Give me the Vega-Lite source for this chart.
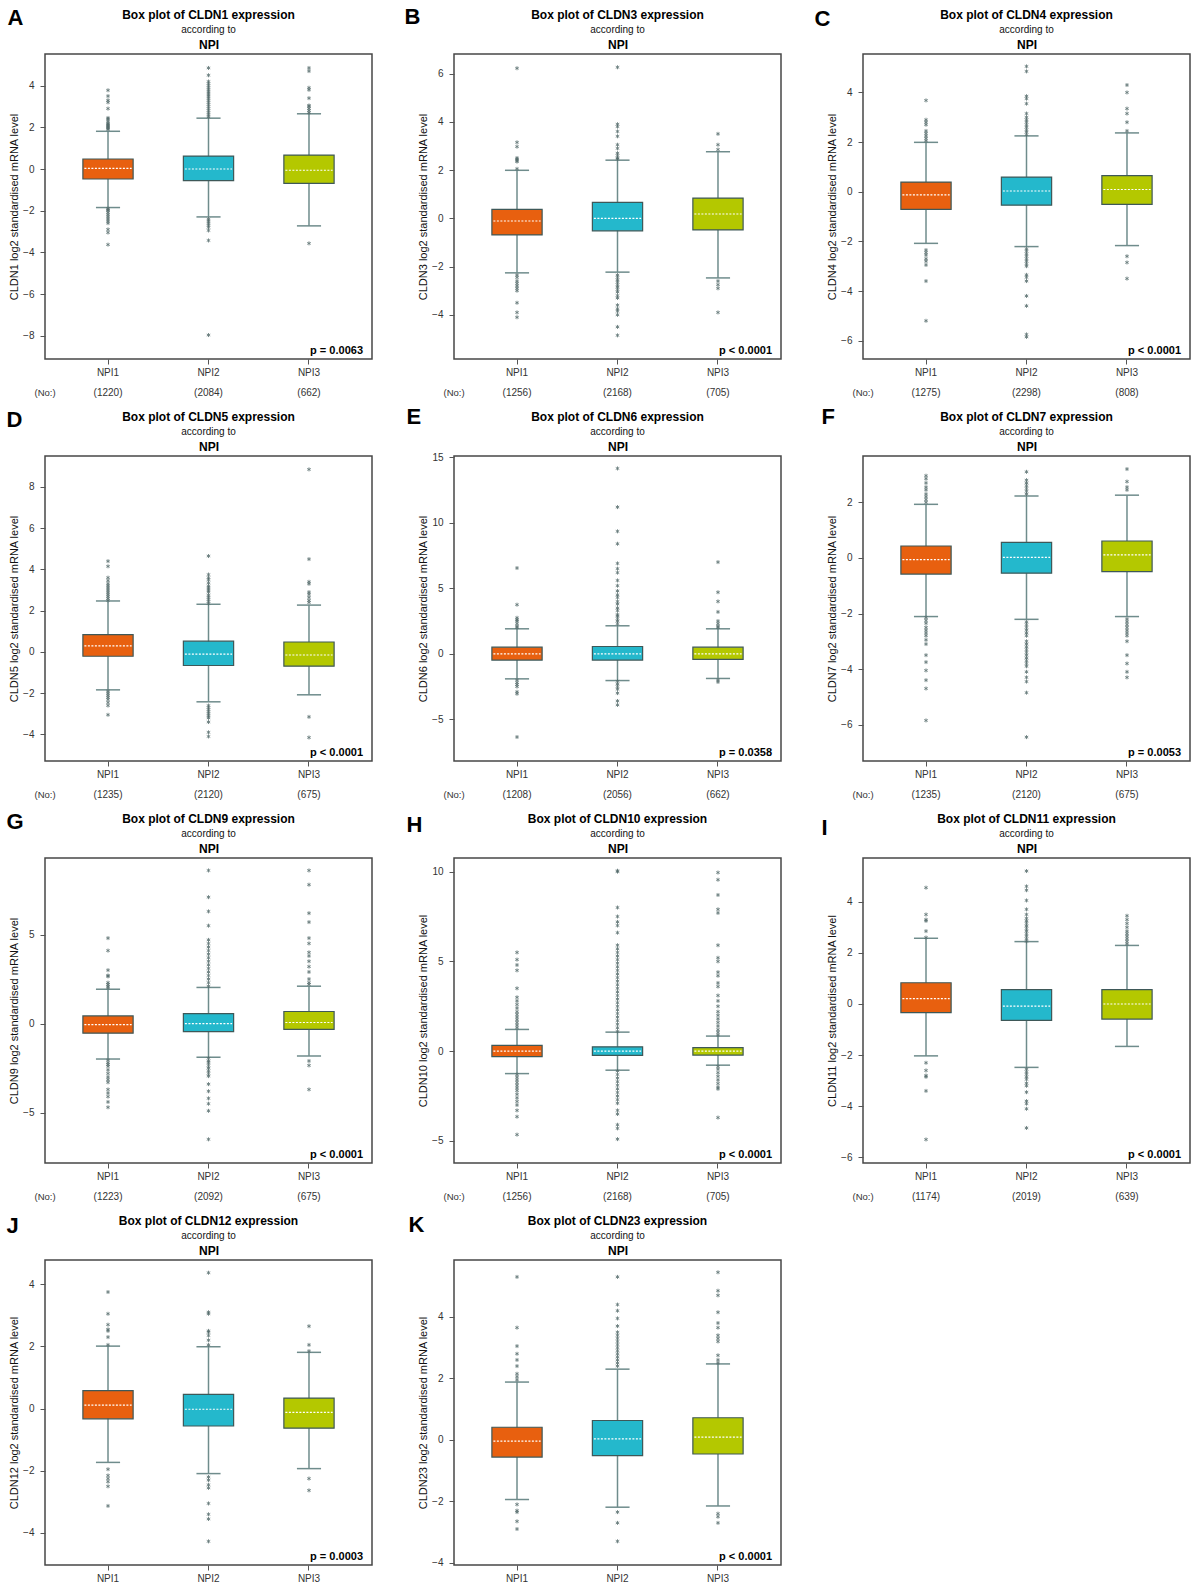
{
"$schema": "https://vega.github.io/schema/vega-lite/v6.json",
"background": "white",
"padding": {"left": 5, "top": 4, "right": 0, "bottom": 0},
"config": {
  "font": "Liberation Sans",
  "view": {"stroke": "#474747", "strokeWidth": 1.5},
  "scale": {"bandPaddingInner": 0.5, "bandPaddingOuter": 0.377},
  "title": {"fontSize": 12, "fontWeight": "bold", "color": "#000", "subtitleFontSize": 10, "subtitleColor": "#111", "subtitlePadding": 0, "anchor": "middle", "frame": "group"},
  "axis": {"grid": false, "domain": false, "labelColor": "#333", "tickColor": "#555", "tickSize": 5, "labelFontSize": 10},
  "axisLeft": {"labelPadding": 6, "titleFontSize": 11, "titleFontWeight": "normal", "titleColor": "#111", "titlePadding": 3},
  "axisBottom": {"labelPadding": 3, "labelAngle": 0, "labelLineHeight": 20, "titleFontSize": 9.5, "titleFontWeight": "normal", "titleColor": "#333"},
  "axisTop": {"labels": false, "ticks": false, "titleFontSize": 12, "titleFontWeight": "bold", "titleColor": "#000", "titlePadding": 3},
  "axisRight": {"labels": false, "ticks": false, "titleFontSize": 22, "titleFontWeight": "bold", "titleColor": "#000", "titleAngle": 0, "titleAlign": "left", "titleBaseline": "alphabetic"}
},
"datasets": {
"stats": [
{"id":"A","grp":"NPI1 (1220)","g":"NPI1","lo":-1.85,"q1":-0.48,"med":0.03,"q3":0.48,"hi":1.81},
{"id":"A","grp":"NPI2 (2084)","g":"NPI2","lo":-2.3,"q1":-0.56,"med":0.0,"q3":0.62,"hi":2.44},
{"id":"A","grp":"NPI3 (662)","g":"NPI3","lo":-2.73,"q1":-0.69,"med":-0.06,"q3":0.67,"hi":2.65},
{"id":"B","grp":"NPI1 (1256)","g":"NPI1","lo":-2.26,"q1":-0.69,"med":-0.11,"q3":0.37,"hi":1.99},
{"id":"B","grp":"NPI2 (2168)","g":"NPI2","lo":-2.23,"q1":-0.52,"med":0.0,"q3":0.66,"hi":2.41},
{"id":"B","grp":"NPI3 (705)","g":"NPI3","lo":-2.47,"q1":-0.48,"med":0.18,"q3":0.84,"hi":2.76},
{"id":"C","grp":"NPI1 (1275)","g":"NPI1","lo":-2.08,"q1":-0.71,"med":-0.13,"q3":0.39,"hi":1.99},
{"id":"C","grp":"NPI2 (2298)","g":"NPI2","lo":-2.21,"q1":-0.54,"med":0.03,"q3":0.59,"hi":2.25},
{"id":"C","grp":"NPI3 (808)","g":"NPI3","lo":-2.17,"q1":-0.51,"med":0.09,"q3":0.65,"hi":2.37},
{"id":"D","grp":"NPI1 (1235)","g":"NPI1","lo":-1.84,"q1":-0.21,"med":0.29,"q3":0.84,"hi":2.47},
{"id":"D","grp":"NPI2 (2120)","g":"NPI2","lo":-2.42,"q1":-0.66,"med":-0.11,"q3":0.52,"hi":2.31},
{"id":"D","grp":"NPI3 (675)","g":"NPI3","lo":-2.08,"q1":-0.69,"med":-0.15,"q3":0.48,"hi":2.27},
{"id":"E","grp":"NPI1 (1208)","g":"NPI1","lo":-1.91,"q1":-0.48,"med":0.0,"q3":0.51,"hi":1.91},
{"id":"E","grp":"NPI2 (2056)","g":"NPI2","lo":-2.04,"q1":-0.48,"med":0.0,"q3":0.56,"hi":2.14},
{"id":"E","grp":"NPI3 (662)","g":"NPI3","lo":-1.88,"q1":-0.43,"med":0.0,"q3":0.51,"hi":1.91},
{"id":"F","grp":"NPI1 (1235)","g":"NPI1","lo":-2.11,"q1":-0.58,"med":-0.06,"q3":0.43,"hi":1.93},
{"id":"F","grp":"NPI2 (2120)","g":"NPI2","lo":-2.21,"q1":-0.55,"med":0.02,"q3":0.56,"hi":2.23},
{"id":"F","grp":"NPI3 (675)","g":"NPI3","lo":-2.11,"q1":-0.49,"med":0.11,"q3":0.61,"hi":2.26},
{"id":"G","grp":"NPI1 (1223)","g":"NPI1","lo":-1.99,"q1":-0.54,"med":-0.06,"q3":0.43,"hi":1.93},
{"id":"G","grp":"NPI2 (2092)","g":"NPI2","lo":-1.89,"q1":-0.45,"med":0.0,"q3":0.56,"hi":2.03},
{"id":"G","grp":"NPI3 (675)","g":"NPI3","lo":-1.82,"q1":-0.32,"med":0.06,"q3":0.68,"hi":2.1},
{"id":"H","grp":"NPI1 (1256)","g":"NPI1","lo":-1.25,"q1":-0.3,"med":0.0,"q3":0.32,"hi":1.21},
{"id":"H","grp":"NPI2 (2168)","g":"NPI2","lo":-1.06,"q1":-0.24,"med":0.0,"q3":0.24,"hi":1.06},
{"id":"H","grp":"NPI3 (705)","g":"NPI3","lo":-0.78,"q1":-0.22,"med":0.0,"q3":0.2,"hi":0.84},
{"id":"I","grp":"NPI1 (1174)","g":"NPI1","lo":-2.03,"q1":-0.34,"med":0.21,"q3":0.83,"hi":2.57},
{"id":"I","grp":"NPI2 (2019)","g":"NPI2","lo":-2.48,"q1":-0.64,"med":-0.08,"q3":0.56,"hi":2.44},
{"id":"I","grp":"NPI3 (639)","g":"NPI3","lo":-1.66,"q1":-0.59,"med":0.0,"q3":0.56,"hi":2.29},
{"id":"J","grp":"NPI1","g":"NPI1","lo":-1.73,"q1":-0.33,"med":0.11,"q3":0.58,"hi":2.01},
{"id":"J","grp":"NPI2","g":"NPI2","lo":-2.09,"q1":-0.56,"med":-0.02,"q3":0.46,"hi":1.99},
{"id":"J","grp":"NPI3","g":"NPI3","lo":-1.93,"q1":-0.63,"med":-0.12,"q3":0.34,"hi":1.81},
{"id":"K","grp":"NPI1","g":"NPI1","lo":-1.94,"q1":-0.56,"med":-0.04,"q3":0.41,"hi":1.88},
{"id":"K","grp":"NPI2","g":"NPI2","lo":-2.19,"q1":-0.51,"med":0.03,"q3":0.63,"hi":2.3},
{"id":"K","grp":"NPI3","g":"NPI3","lo":-2.15,"q1":-0.46,"med":0.09,"q3":0.72,"hi":2.47}
],
"info": [
{"id":"A","p":"p = 0.0063"},{"id":"B","p":"p < 0.0001"},{"id":"C","p":"p < 0.0001"},{"id":"D","p":"p < 0.0001"},
{"id":"E","p":"p = 0.0358"},{"id":"F","p":"p = 0.0053"},{"id":"G","p":"p < 0.0001"},{"id":"H","p":"p < 0.0001"},
{"id":"I","p":"p < 0.0001"},{"id":"J","p":"p = 0.0003"},{"id":"K","p":"p < 0.0001"}
],
"out": [
{"id":"A","grp":"NPI1 (1220)","v":1.9},{"id":"A","grp":"NPI1 (1220)","v":1.95},{"id":"A","grp":"NPI1 (1220)","v":2.0},{"id":"A","grp":"NPI1 (1220)","v":2.05},{"id":"A","grp":"NPI1 (1220)","v":2.1},{"id":"A","grp":"NPI1 (1220)","v":2.15},{"id":"A","grp":"NPI1 (1220)","v":2.2},{"id":"A","grp":"NPI1 (1220)","v":2.3},{"id":"A","grp":"NPI1 (1220)","v":2.4},{"id":"A","grp":"NPI1 (1220)","v":2.45},{"id":"A","grp":"NPI1 (1220)","v":2.9},{"id":"A","grp":"NPI1 (1220)","v":3.2},{"id":"A","grp":"NPI1 (1220)","v":3.3},{"id":"A","grp":"NPI1 (1220)","v":3.5},{"id":"A","grp":"NPI1 (1220)","v":3.78},
{"id":"A","grp":"NPI1 (1220)","v":-1.9},{"id":"A","grp":"NPI1 (1220)","v":-1.95},{"id":"A","grp":"NPI1 (1220)","v":-2.0},{"id":"A","grp":"NPI1 (1220)","v":-2.1},{"id":"A","grp":"NPI1 (1220)","v":-2.2},{"id":"A","grp":"NPI1 (1220)","v":-2.3},{"id":"A","grp":"NPI1 (1220)","v":-2.4},{"id":"A","grp":"NPI1 (1220)","v":-2.5},{"id":"A","grp":"NPI1 (1220)","v":-2.6},{"id":"A","grp":"NPI1 (1220)","v":-2.9},{"id":"A","grp":"NPI1 (1220)","v":-3.05},{"id":"A","grp":"NPI1 (1220)","v":-3.63},
{"id":"A","grp":"NPI2 (2084)","v":2.5},{"id":"A","grp":"NPI2 (2084)","v":2.6},{"id":"A","grp":"NPI2 (2084)","v":2.7},{"id":"A","grp":"NPI2 (2084)","v":2.8},{"id":"A","grp":"NPI2 (2084)","v":2.9},{"id":"A","grp":"NPI2 (2084)","v":3.0},{"id":"A","grp":"NPI2 (2084)","v":3.1},{"id":"A","grp":"NPI2 (2084)","v":3.2},{"id":"A","grp":"NPI2 (2084)","v":3.3},{"id":"A","grp":"NPI2 (2084)","v":3.4},{"id":"A","grp":"NPI2 (2084)","v":3.5},{"id":"A","grp":"NPI2 (2084)","v":3.6},{"id":"A","grp":"NPI2 (2084)","v":3.7},{"id":"A","grp":"NPI2 (2084)","v":3.8},{"id":"A","grp":"NPI2 (2084)","v":3.9},{"id":"A","grp":"NPI2 (2084)","v":4.0},{"id":"A","grp":"NPI2 (2084)","v":4.1},{"id":"A","grp":"NPI2 (2084)","v":4.2},{"id":"A","grp":"NPI2 (2084)","v":4.5},{"id":"A","grp":"NPI2 (2084)","v":4.85},
{"id":"A","grp":"NPI2 (2084)","v":-2.4},{"id":"A","grp":"NPI2 (2084)","v":-2.5},{"id":"A","grp":"NPI2 (2084)","v":-2.6},{"id":"A","grp":"NPI2 (2084)","v":-2.7},{"id":"A","grp":"NPI2 (2084)","v":-2.8},{"id":"A","grp":"NPI2 (2084)","v":-2.95},{"id":"A","grp":"NPI2 (2084)","v":-3.43},{"id":"A","grp":"NPI2 (2084)","v":-7.97},
{"id":"A","grp":"NPI3 (662)","v":2.7},{"id":"A","grp":"NPI3 (662)","v":2.8},{"id":"A","grp":"NPI3 (662)","v":2.9},{"id":"A","grp":"NPI3 (662)","v":3.0},{"id":"A","grp":"NPI3 (662)","v":3.05},{"id":"A","grp":"NPI3 (662)","v":3.4},{"id":"A","grp":"NPI3 (662)","v":3.8},{"id":"A","grp":"NPI3 (662)","v":3.9},{"id":"A","grp":"NPI3 (662)","v":4.7},{"id":"A","grp":"NPI3 (662)","v":4.85},{"id":"A","grp":"NPI3 (662)","v":-3.57},

{"id":"B","grp":"NPI1 (1256)","v":2.05},{"id":"B","grp":"NPI1 (1256)","v":2.35},{"id":"B","grp":"NPI1 (1256)","v":2.4},{"id":"B","grp":"NPI1 (1256)","v":2.45},{"id":"B","grp":"NPI1 (1256)","v":2.5},{"id":"B","grp":"NPI1 (1256)","v":2.97},{"id":"B","grp":"NPI1 (1256)","v":3.15},{"id":"B","grp":"NPI1 (1256)","v":6.22},
{"id":"B","grp":"NPI1 (1256)","v":-2.35},{"id":"B","grp":"NPI1 (1256)","v":-2.45},{"id":"B","grp":"NPI1 (1256)","v":-2.6},{"id":"B","grp":"NPI1 (1256)","v":-2.7},{"id":"B","grp":"NPI1 (1256)","v":-2.8},{"id":"B","grp":"NPI1 (1256)","v":-2.9},{"id":"B","grp":"NPI1 (1256)","v":-3.0},{"id":"B","grp":"NPI1 (1256)","v":-3.5},{"id":"B","grp":"NPI1 (1256)","v":-3.9},{"id":"B","grp":"NPI1 (1256)","v":-4.1},
{"id":"B","grp":"NPI2 (2168)","v":2.45},{"id":"B","grp":"NPI2 (2168)","v":2.5},{"id":"B","grp":"NPI2 (2168)","v":2.6},{"id":"B","grp":"NPI2 (2168)","v":2.7},{"id":"B","grp":"NPI2 (2168)","v":2.9},{"id":"B","grp":"NPI2 (2168)","v":3.05},{"id":"B","grp":"NPI2 (2168)","v":3.4},{"id":"B","grp":"NPI2 (2168)","v":3.6},{"id":"B","grp":"NPI2 (2168)","v":3.8},{"id":"B","grp":"NPI2 (2168)","v":3.9},{"id":"B","grp":"NPI2 (2168)","v":6.26},
{"id":"B","grp":"NPI2 (2168)","v":-2.35},{"id":"B","grp":"NPI2 (2168)","v":-2.45},{"id":"B","grp":"NPI2 (2168)","v":-2.55},{"id":"B","grp":"NPI2 (2168)","v":-2.65},{"id":"B","grp":"NPI2 (2168)","v":-2.75},{"id":"B","grp":"NPI2 (2168)","v":-2.85},{"id":"B","grp":"NPI2 (2168)","v":-2.95},{"id":"B","grp":"NPI2 (2168)","v":-3.05},{"id":"B","grp":"NPI2 (2168)","v":-3.2},{"id":"B","grp":"NPI2 (2168)","v":-3.3},{"id":"B","grp":"NPI2 (2168)","v":-3.6},{"id":"B","grp":"NPI2 (2168)","v":-3.75},{"id":"B","grp":"NPI2 (2168)","v":-3.85},{"id":"B","grp":"NPI2 (2168)","v":-4.0},{"id":"B","grp":"NPI2 (2168)","v":-4.5},{"id":"B","grp":"NPI2 (2168)","v":-4.85},
{"id":"B","grp":"NPI3 (705)","v":2.85},{"id":"B","grp":"NPI3 (705)","v":3.05},{"id":"B","grp":"NPI3 (705)","v":3.5},{"id":"B","grp":"NPI3 (705)","v":-2.6},{"id":"B","grp":"NPI3 (705)","v":-2.75},{"id":"B","grp":"NPI3 (705)","v":-2.9},{"id":"B","grp":"NPI3 (705)","v":-3.9},

{"id":"C","grp":"NPI1 (1275)","v":2.05},{"id":"C","grp":"NPI1 (1275)","v":2.15},{"id":"C","grp":"NPI1 (1275)","v":2.25},{"id":"C","grp":"NPI1 (1275)","v":2.35},{"id":"C","grp":"NPI1 (1275)","v":2.45},{"id":"C","grp":"NPI1 (1275)","v":2.7},{"id":"C","grp":"NPI1 (1275)","v":2.8},{"id":"C","grp":"NPI1 (1275)","v":2.9},{"id":"C","grp":"NPI1 (1275)","v":3.68},
{"id":"C","grp":"NPI1 (1275)","v":-2.35},{"id":"C","grp":"NPI1 (1275)","v":-2.45},{"id":"C","grp":"NPI1 (1275)","v":-2.55},{"id":"C","grp":"NPI1 (1275)","v":-2.7},{"id":"C","grp":"NPI1 (1275)","v":-2.8},{"id":"C","grp":"NPI1 (1275)","v":-2.95},{"id":"C","grp":"NPI1 (1275)","v":-3.6},{"id":"C","grp":"NPI1 (1275)","v":-5.2},
{"id":"C","grp":"NPI2 (2298)","v":2.3},{"id":"C","grp":"NPI2 (2298)","v":2.4},{"id":"C","grp":"NPI2 (2298)","v":2.5},{"id":"C","grp":"NPI2 (2298)","v":2.6},{"id":"C","grp":"NPI2 (2298)","v":2.7},{"id":"C","grp":"NPI2 (2298)","v":2.8},{"id":"C","grp":"NPI2 (2298)","v":2.9},{"id":"C","grp":"NPI2 (2298)","v":3.0},{"id":"C","grp":"NPI2 (2298)","v":3.15},{"id":"C","grp":"NPI2 (2298)","v":3.55},{"id":"C","grp":"NPI2 (2298)","v":3.75},{"id":"C","grp":"NPI2 (2298)","v":3.85},{"id":"C","grp":"NPI2 (2298)","v":4.85},{"id":"C","grp":"NPI2 (2298)","v":5.05},
{"id":"C","grp":"NPI2 (2298)","v":-2.3},{"id":"C","grp":"NPI2 (2298)","v":-2.4},{"id":"C","grp":"NPI2 (2298)","v":-2.5},{"id":"C","grp":"NPI2 (2298)","v":-2.6},{"id":"C","grp":"NPI2 (2298)","v":-2.7},{"id":"C","grp":"NPI2 (2298)","v":-2.8},{"id":"C","grp":"NPI2 (2298)","v":-2.9},{"id":"C","grp":"NPI2 (2298)","v":-3.0},{"id":"C","grp":"NPI2 (2298)","v":-3.35},{"id":"C","grp":"NPI2 (2298)","v":-3.45},{"id":"C","grp":"NPI2 (2298)","v":-3.6},{"id":"C","grp":"NPI2 (2298)","v":-4.2},{"id":"C","grp":"NPI2 (2298)","v":-4.6},{"id":"C","grp":"NPI2 (2298)","v":-5.75},{"id":"C","grp":"NPI2 (2298)","v":-5.85},
{"id":"C","grp":"NPI3 (808)","v":2.45},{"id":"C","grp":"NPI3 (808)","v":2.8},{"id":"C","grp":"NPI3 (808)","v":3.15},{"id":"C","grp":"NPI3 (808)","v":3.35},{"id":"C","grp":"NPI3 (808)","v":4.0},{"id":"C","grp":"NPI3 (808)","v":4.3},{"id":"C","grp":"NPI3 (808)","v":-2.6},{"id":"C","grp":"NPI3 (808)","v":-2.85},{"id":"C","grp":"NPI3 (808)","v":-3.5},

{"id":"D","grp":"NPI1 (1235)","v":2.5},{"id":"D","grp":"NPI1 (1235)","v":2.6},{"id":"D","grp":"NPI1 (1235)","v":2.7},{"id":"D","grp":"NPI1 (1235)","v":2.8},{"id":"D","grp":"NPI1 (1235)","v":2.9},{"id":"D","grp":"NPI1 (1235)","v":3.0},{"id":"D","grp":"NPI1 (1235)","v":3.1},{"id":"D","grp":"NPI1 (1235)","v":3.2},{"id":"D","grp":"NPI1 (1235)","v":3.3},{"id":"D","grp":"NPI1 (1235)","v":3.45},{"id":"D","grp":"NPI1 (1235)","v":3.6},{"id":"D","grp":"NPI1 (1235)","v":4.15},{"id":"D","grp":"NPI1 (1235)","v":4.4},
{"id":"D","grp":"NPI1 (1235)","v":-1.9},{"id":"D","grp":"NPI1 (1235)","v":-2.0},{"id":"D","grp":"NPI1 (1235)","v":-2.1},{"id":"D","grp":"NPI1 (1235)","v":-2.2},{"id":"D","grp":"NPI1 (1235)","v":-2.3},{"id":"D","grp":"NPI1 (1235)","v":-2.45},{"id":"D","grp":"NPI1 (1235)","v":-2.6},{"id":"D","grp":"NPI1 (1235)","v":-3.05},
{"id":"D","grp":"NPI2 (2120)","v":2.35},{"id":"D","grp":"NPI2 (2120)","v":2.45},{"id":"D","grp":"NPI2 (2120)","v":2.55},{"id":"D","grp":"NPI2 (2120)","v":2.65},{"id":"D","grp":"NPI2 (2120)","v":2.75},{"id":"D","grp":"NPI2 (2120)","v":2.9},{"id":"D","grp":"NPI2 (2120)","v":3.0},{"id":"D","grp":"NPI2 (2120)","v":3.1},{"id":"D","grp":"NPI2 (2120)","v":3.2},{"id":"D","grp":"NPI2 (2120)","v":3.35},{"id":"D","grp":"NPI2 (2120)","v":3.5},{"id":"D","grp":"NPI2 (2120)","v":3.6},{"id":"D","grp":"NPI2 (2120)","v":3.75},{"id":"D","grp":"NPI2 (2120)","v":4.65},
{"id":"D","grp":"NPI2 (2120)","v":-2.6},{"id":"D","grp":"NPI2 (2120)","v":-2.7},{"id":"D","grp":"NPI2 (2120)","v":-2.8},{"id":"D","grp":"NPI2 (2120)","v":-2.9},{"id":"D","grp":"NPI2 (2120)","v":-3.0},{"id":"D","grp":"NPI2 (2120)","v":-3.1},{"id":"D","grp":"NPI2 (2120)","v":-3.2},{"id":"D","grp":"NPI2 (2120)","v":-3.4},{"id":"D","grp":"NPI2 (2120)","v":-3.9},{"id":"D","grp":"NPI2 (2120)","v":-4.1},
{"id":"D","grp":"NPI3 (675)","v":2.4},{"id":"D","grp":"NPI3 (675)","v":2.5},{"id":"D","grp":"NPI3 (675)","v":2.65},{"id":"D","grp":"NPI3 (675)","v":2.8},{"id":"D","grp":"NPI3 (675)","v":2.9},{"id":"D","grp":"NPI3 (675)","v":3.3},{"id":"D","grp":"NPI3 (675)","v":3.4},{"id":"D","grp":"NPI3 (675)","v":4.5},{"id":"D","grp":"NPI3 (675)","v":8.85},{"id":"D","grp":"NPI3 (675)","v":-3.15},{"id":"D","grp":"NPI3 (675)","v":-4.15},

{"id":"E","grp":"NPI1 (1208)","v":2.0},{"id":"E","grp":"NPI1 (1208)","v":2.1},{"id":"E","grp":"NPI1 (1208)","v":2.3},{"id":"E","grp":"NPI1 (1208)","v":2.5},{"id":"E","grp":"NPI1 (1208)","v":2.6},{"id":"E","grp":"NPI1 (1208)","v":2.75},{"id":"E","grp":"NPI1 (1208)","v":3.75},{"id":"E","grp":"NPI1 (1208)","v":6.55},
{"id":"E","grp":"NPI1 (1208)","v":-2.0},{"id":"E","grp":"NPI1 (1208)","v":-2.2},{"id":"E","grp":"NPI1 (1208)","v":-2.35},{"id":"E","grp":"NPI1 (1208)","v":-2.5},{"id":"E","grp":"NPI1 (1208)","v":-2.9},{"id":"E","grp":"NPI1 (1208)","v":-3.05},{"id":"E","grp":"NPI1 (1208)","v":-6.35},
{"id":"E","grp":"NPI2 (2056)","v":2.3},{"id":"E","grp":"NPI2 (2056)","v":2.5},{"id":"E","grp":"NPI2 (2056)","v":2.7},{"id":"E","grp":"NPI2 (2056)","v":2.9},{"id":"E","grp":"NPI2 (2056)","v":3.0},{"id":"E","grp":"NPI2 (2056)","v":3.3},{"id":"E","grp":"NPI2 (2056)","v":3.5},{"id":"E","grp":"NPI2 (2056)","v":3.8},{"id":"E","grp":"NPI2 (2056)","v":4.0},{"id":"E","grp":"NPI2 (2056)","v":4.3},{"id":"E","grp":"NPI2 (2056)","v":4.5},{"id":"E","grp":"NPI2 (2056)","v":4.8},{"id":"E","grp":"NPI2 (2056)","v":5.2},{"id":"E","grp":"NPI2 (2056)","v":5.6},{"id":"E","grp":"NPI2 (2056)","v":6.2},{"id":"E","grp":"NPI2 (2056)","v":6.5},{"id":"E","grp":"NPI2 (2056)","v":6.9},{"id":"E","grp":"NPI2 (2056)","v":8.4},{"id":"E","grp":"NPI2 (2056)","v":9.35},{"id":"E","grp":"NPI2 (2056)","v":11.2},{"id":"E","grp":"NPI2 (2056)","v":14.15},
{"id":"E","grp":"NPI2 (2056)","v":-2.1},{"id":"E","grp":"NPI2 (2056)","v":-2.3},{"id":"E","grp":"NPI2 (2056)","v":-2.5},{"id":"E","grp":"NPI2 (2056)","v":-2.7},{"id":"E","grp":"NPI2 (2056)","v":-3.0},{"id":"E","grp":"NPI2 (2056)","v":-3.6},{"id":"E","grp":"NPI2 (2056)","v":-3.9},
{"id":"E","grp":"NPI3 (662)","v":2.0},{"id":"E","grp":"NPI3 (662)","v":2.1},{"id":"E","grp":"NPI3 (662)","v":2.3},{"id":"E","grp":"NPI3 (662)","v":2.5},{"id":"E","grp":"NPI3 (662)","v":3.2},{"id":"E","grp":"NPI3 (662)","v":4.0},{"id":"E","grp":"NPI3 (662)","v":4.7},{"id":"E","grp":"NPI3 (662)","v":7.0},{"id":"E","grp":"NPI3 (662)","v":-2.0},{"id":"E","grp":"NPI3 (662)","v":-2.15},

{"id":"F","grp":"NPI1 (1235)","v":2.0},{"id":"F","grp":"NPI1 (1235)","v":2.1},{"id":"F","grp":"NPI1 (1235)","v":2.2},{"id":"F","grp":"NPI1 (1235)","v":2.3},{"id":"F","grp":"NPI1 (1235)","v":2.45},{"id":"F","grp":"NPI1 (1235)","v":2.55},{"id":"F","grp":"NPI1 (1235)","v":2.7},{"id":"F","grp":"NPI1 (1235)","v":2.85},{"id":"F","grp":"NPI1 (1235)","v":2.96},
{"id":"F","grp":"NPI1 (1235)","v":-2.15},{"id":"F","grp":"NPI1 (1235)","v":-2.25},{"id":"F","grp":"NPI1 (1235)","v":-2.35},{"id":"F","grp":"NPI1 (1235)","v":-2.5},{"id":"F","grp":"NPI1 (1235)","v":-2.6},{"id":"F","grp":"NPI1 (1235)","v":-2.7},{"id":"F","grp":"NPI1 (1235)","v":-2.8},{"id":"F","grp":"NPI1 (1235)","v":-2.95},{"id":"F","grp":"NPI1 (1235)","v":-3.1},{"id":"F","grp":"NPI1 (1235)","v":-3.5},{"id":"F","grp":"NPI1 (1235)","v":-3.75},{"id":"F","grp":"NPI1 (1235)","v":-4.05},{"id":"F","grp":"NPI1 (1235)","v":-4.4},{"id":"F","grp":"NPI1 (1235)","v":-4.7},{"id":"F","grp":"NPI1 (1235)","v":-5.85},
{"id":"F","grp":"NPI2 (2120)","v":2.3},{"id":"F","grp":"NPI2 (2120)","v":2.4},{"id":"F","grp":"NPI2 (2120)","v":2.5},{"id":"F","grp":"NPI2 (2120)","v":2.6},{"id":"F","grp":"NPI2 (2120)","v":2.7},{"id":"F","grp":"NPI2 (2120)","v":2.8},{"id":"F","grp":"NPI2 (2120)","v":3.1},
{"id":"F","grp":"NPI2 (2120)","v":-2.3},{"id":"F","grp":"NPI2 (2120)","v":-2.4},{"id":"F","grp":"NPI2 (2120)","v":-2.5},{"id":"F","grp":"NPI2 (2120)","v":-2.6},{"id":"F","grp":"NPI2 (2120)","v":-2.7},{"id":"F","grp":"NPI2 (2120)","v":-2.8},{"id":"F","grp":"NPI2 (2120)","v":-3.0},{"id":"F","grp":"NPI2 (2120)","v":-3.1},{"id":"F","grp":"NPI2 (2120)","v":-3.2},{"id":"F","grp":"NPI2 (2120)","v":-3.3},{"id":"F","grp":"NPI2 (2120)","v":-3.4},{"id":"F","grp":"NPI2 (2120)","v":-3.5},{"id":"F","grp":"NPI2 (2120)","v":-3.6},{"id":"F","grp":"NPI2 (2120)","v":-3.7},{"id":"F","grp":"NPI2 (2120)","v":-3.8},{"id":"F","grp":"NPI2 (2120)","v":-3.9},{"id":"F","grp":"NPI2 (2120)","v":-4.1},{"id":"F","grp":"NPI2 (2120)","v":-4.3},{"id":"F","grp":"NPI2 (2120)","v":-4.45},{"id":"F","grp":"NPI2 (2120)","v":-4.85},{"id":"F","grp":"NPI2 (2120)","v":-6.45},
{"id":"F","grp":"NPI3 (675)","v":2.45},{"id":"F","grp":"NPI3 (675)","v":2.55},{"id":"F","grp":"NPI3 (675)","v":2.75},{"id":"F","grp":"NPI3 (675)","v":3.2},
{"id":"F","grp":"NPI3 (675)","v":-2.2},{"id":"F","grp":"NPI3 (675)","v":-2.3},{"id":"F","grp":"NPI3 (675)","v":-2.4},{"id":"F","grp":"NPI3 (675)","v":-2.5},{"id":"F","grp":"NPI3 (675)","v":-2.6},{"id":"F","grp":"NPI3 (675)","v":-2.7},{"id":"F","grp":"NPI3 (675)","v":-2.8},{"id":"F","grp":"NPI3 (675)","v":-3.0},{"id":"F","grp":"NPI3 (675)","v":-3.5},{"id":"F","grp":"NPI3 (675)","v":-3.8},{"id":"F","grp":"NPI3 (675)","v":-4.1},{"id":"F","grp":"NPI3 (675)","v":-4.3},

{"id":"G","grp":"NPI1 (1223)","v":2.0},{"id":"G","grp":"NPI1 (1223)","v":2.1},{"id":"G","grp":"NPI1 (1223)","v":2.2},{"id":"G","grp":"NPI1 (1223)","v":2.3},{"id":"G","grp":"NPI1 (1223)","v":2.65},{"id":"G","grp":"NPI1 (1223)","v":2.7},{"id":"G","grp":"NPI1 (1223)","v":3.0},{"id":"G","grp":"NPI1 (1223)","v":4.1},{"id":"G","grp":"NPI1 (1223)","v":4.8},
{"id":"G","grp":"NPI1 (1223)","v":-2.05},{"id":"G","grp":"NPI1 (1223)","v":-2.2},{"id":"G","grp":"NPI1 (1223)","v":-2.3},{"id":"G","grp":"NPI1 (1223)","v":-2.4},{"id":"G","grp":"NPI1 (1223)","v":-2.6},{"id":"G","grp":"NPI1 (1223)","v":-2.8},{"id":"G","grp":"NPI1 (1223)","v":-3.0},{"id":"G","grp":"NPI1 (1223)","v":-3.15},{"id":"G","grp":"NPI1 (1223)","v":-3.3},{"id":"G","grp":"NPI1 (1223)","v":-3.7},{"id":"G","grp":"NPI1 (1223)","v":-3.9},{"id":"G","grp":"NPI1 (1223)","v":-4.1},{"id":"G","grp":"NPI1 (1223)","v":-4.4},{"id":"G","grp":"NPI1 (1223)","v":-4.7},
{"id":"G","grp":"NPI2 (2092)","v":2.1},{"id":"G","grp":"NPI2 (2092)","v":2.3},{"id":"G","grp":"NPI2 (2092)","v":2.5},{"id":"G","grp":"NPI2 (2092)","v":2.7},{"id":"G","grp":"NPI2 (2092)","v":2.9},{"id":"G","grp":"NPI2 (2092)","v":3.1},{"id":"G","grp":"NPI2 (2092)","v":3.3},{"id":"G","grp":"NPI2 (2092)","v":3.5},{"id":"G","grp":"NPI2 (2092)","v":3.7},{"id":"G","grp":"NPI2 (2092)","v":3.9},{"id":"G","grp":"NPI2 (2092)","v":4.1},{"id":"G","grp":"NPI2 (2092)","v":4.3},{"id":"G","grp":"NPI2 (2092)","v":4.5},{"id":"G","grp":"NPI2 (2092)","v":4.7},{"id":"G","grp":"NPI2 (2092)","v":5.5},{"id":"G","grp":"NPI2 (2092)","v":6.3},{"id":"G","grp":"NPI2 (2092)","v":7.1},{"id":"G","grp":"NPI2 (2092)","v":8.6},
{"id":"G","grp":"NPI2 (2092)","v":-1.95},{"id":"G","grp":"NPI2 (2092)","v":-2.1},{"id":"G","grp":"NPI2 (2092)","v":-2.2},{"id":"G","grp":"NPI2 (2092)","v":-2.35},{"id":"G","grp":"NPI2 (2092)","v":-2.5},{"id":"G","grp":"NPI2 (2092)","v":-2.65},{"id":"G","grp":"NPI2 (2092)","v":-2.8},{"id":"G","grp":"NPI2 (2092)","v":-2.95},{"id":"G","grp":"NPI2 (2092)","v":-3.4},{"id":"G","grp":"NPI2 (2092)","v":-3.8},{"id":"G","grp":"NPI2 (2092)","v":-4.2},{"id":"G","grp":"NPI2 (2092)","v":-4.5},{"id":"G","grp":"NPI2 (2092)","v":-4.9},{"id":"G","grp":"NPI2 (2092)","v":-6.5},
{"id":"G","grp":"NPI3 (675)","v":2.2},{"id":"G","grp":"NPI3 (675)","v":2.3},{"id":"G","grp":"NPI3 (675)","v":2.5},{"id":"G","grp":"NPI3 (675)","v":2.9},{"id":"G","grp":"NPI3 (675)","v":3.2},{"id":"G","grp":"NPI3 (675)","v":3.5},{"id":"G","grp":"NPI3 (675)","v":3.8},{"id":"G","grp":"NPI3 (675)","v":4.0},{"id":"G","grp":"NPI3 (675)","v":4.5},{"id":"G","grp":"NPI3 (675)","v":4.8},{"id":"G","grp":"NPI3 (675)","v":5.7},{"id":"G","grp":"NPI3 (675)","v":6.2},{"id":"G","grp":"NPI3 (675)","v":7.8},{"id":"G","grp":"NPI3 (675)","v":8.6},
{"id":"G","grp":"NPI3 (675)","v":-2.1},{"id":"G","grp":"NPI3 (675)","v":-2.35},{"id":"G","grp":"NPI3 (675)","v":-3.7},

{"id":"H","grp":"NPI1 (1256)","v":1.3},{"id":"H","grp":"NPI1 (1256)","v":1.45},{"id":"H","grp":"NPI1 (1256)","v":1.6},{"id":"H","grp":"NPI1 (1256)","v":1.75},{"id":"H","grp":"NPI1 (1256)","v":1.9},{"id":"H","grp":"NPI1 (1256)","v":2.05},{"id":"H","grp":"NPI1 (1256)","v":2.2},{"id":"H","grp":"NPI1 (1256)","v":2.4},{"id":"H","grp":"NPI1 (1256)","v":2.6},{"id":"H","grp":"NPI1 (1256)","v":2.8},{"id":"H","grp":"NPI1 (1256)","v":3.0},{"id":"H","grp":"NPI1 (1256)","v":3.5},{"id":"H","grp":"NPI1 (1256)","v":4.5},{"id":"H","grp":"NPI1 (1256)","v":4.8},{"id":"H","grp":"NPI1 (1256)","v":5.1},{"id":"H","grp":"NPI1 (1256)","v":5.5},
{"id":"H","grp":"NPI1 (1256)","v":-1.3},{"id":"H","grp":"NPI1 (1256)","v":-1.45},{"id":"H","grp":"NPI1 (1256)","v":-1.6},{"id":"H","grp":"NPI1 (1256)","v":-1.75},{"id":"H","grp":"NPI1 (1256)","v":-1.9},{"id":"H","grp":"NPI1 (1256)","v":-2.05},{"id":"H","grp":"NPI1 (1256)","v":-2.2},{"id":"H","grp":"NPI1 (1256)","v":-2.4},{"id":"H","grp":"NPI1 (1256)","v":-2.6},{"id":"H","grp":"NPI1 (1256)","v":-2.8},{"id":"H","grp":"NPI1 (1256)","v":-3.0},{"id":"H","grp":"NPI1 (1256)","v":-3.3},{"id":"H","grp":"NPI1 (1256)","v":-3.65},{"id":"H","grp":"NPI1 (1256)","v":-4.65},
{"id":"H","grp":"NPI2 (2168)","v":1.1},{"id":"H","grp":"NPI2 (2168)","v":1.3},{"id":"H","grp":"NPI2 (2168)","v":1.5},{"id":"H","grp":"NPI2 (2168)","v":1.7},{"id":"H","grp":"NPI2 (2168)","v":1.9},{"id":"H","grp":"NPI2 (2168)","v":2.1},{"id":"H","grp":"NPI2 (2168)","v":2.3},{"id":"H","grp":"NPI2 (2168)","v":2.5},{"id":"H","grp":"NPI2 (2168)","v":2.7},{"id":"H","grp":"NPI2 (2168)","v":2.9},{"id":"H","grp":"NPI2 (2168)","v":3.1},{"id":"H","grp":"NPI2 (2168)","v":3.3},{"id":"H","grp":"NPI2 (2168)","v":3.5},{"id":"H","grp":"NPI2 (2168)","v":3.7},{"id":"H","grp":"NPI2 (2168)","v":3.9},{"id":"H","grp":"NPI2 (2168)","v":4.1},{"id":"H","grp":"NPI2 (2168)","v":4.3},{"id":"H","grp":"NPI2 (2168)","v":4.5},{"id":"H","grp":"NPI2 (2168)","v":4.7},{"id":"H","grp":"NPI2 (2168)","v":4.9},{"id":"H","grp":"NPI2 (2168)","v":5.1},{"id":"H","grp":"NPI2 (2168)","v":5.3},{"id":"H","grp":"NPI2 (2168)","v":5.5},{"id":"H","grp":"NPI2 (2168)","v":5.7},{"id":"H","grp":"NPI2 (2168)","v":5.9},{"id":"H","grp":"NPI2 (2168)","v":6.6},{"id":"H","grp":"NPI2 (2168)","v":7.0},{"id":"H","grp":"NPI2 (2168)","v":7.2},{"id":"H","grp":"NPI2 (2168)","v":7.5},{"id":"H","grp":"NPI2 (2168)","v":8.0},{"id":"H","grp":"NPI2 (2168)","v":10.0},{"id":"H","grp":"NPI2 (2168)","v":10.05},
{"id":"H","grp":"NPI2 (2168)","v":-1.1},{"id":"H","grp":"NPI2 (2168)","v":-1.3},{"id":"H","grp":"NPI2 (2168)","v":-1.5},{"id":"H","grp":"NPI2 (2168)","v":-1.7},{"id":"H","grp":"NPI2 (2168)","v":-1.9},{"id":"H","grp":"NPI2 (2168)","v":-2.1},{"id":"H","grp":"NPI2 (2168)","v":-2.3},{"id":"H","grp":"NPI2 (2168)","v":-2.5},{"id":"H","grp":"NPI2 (2168)","v":-2.7},{"id":"H","grp":"NPI2 (2168)","v":-2.9},{"id":"H","grp":"NPI2 (2168)","v":-3.3},{"id":"H","grp":"NPI2 (2168)","v":-3.5},{"id":"H","grp":"NPI2 (2168)","v":-4.1},{"id":"H","grp":"NPI2 (2168)","v":-4.3},{"id":"H","grp":"NPI2 (2168)","v":-4.9},
{"id":"H","grp":"NPI3 (705)","v":0.9},{"id":"H","grp":"NPI3 (705)","v":1.05},{"id":"H","grp":"NPI3 (705)","v":1.2},{"id":"H","grp":"NPI3 (705)","v":1.4},{"id":"H","grp":"NPI3 (705)","v":1.6},{"id":"H","grp":"NPI3 (705)","v":1.8},{"id":"H","grp":"NPI3 (705)","v":2.0},{"id":"H","grp":"NPI3 (705)","v":2.2},{"id":"H","grp":"NPI3 (705)","v":2.5},{"id":"H","grp":"NPI3 (705)","v":2.8},{"id":"H","grp":"NPI3 (705)","v":3.1},{"id":"H","grp":"NPI3 (705)","v":3.6},{"id":"H","grp":"NPI3 (705)","v":3.8},{"id":"H","grp":"NPI3 (705)","v":4.2},{"id":"H","grp":"NPI3 (705)","v":4.4},{"id":"H","grp":"NPI3 (705)","v":5.0},{"id":"H","grp":"NPI3 (705)","v":5.2},{"id":"H","grp":"NPI3 (705)","v":5.9},{"id":"H","grp":"NPI3 (705)","v":7.7},{"id":"H","grp":"NPI3 (705)","v":7.9},{"id":"H","grp":"NPI3 (705)","v":8.7},{"id":"H","grp":"NPI3 (705)","v":9.55},{"id":"H","grp":"NPI3 (705)","v":9.95},
{"id":"H","grp":"NPI3 (705)","v":-0.85},{"id":"H","grp":"NPI3 (705)","v":-1.0},{"id":"H","grp":"NPI3 (705)","v":-1.2},{"id":"H","grp":"NPI3 (705)","v":-1.4},{"id":"H","grp":"NPI3 (705)","v":-1.6},{"id":"H","grp":"NPI3 (705)","v":-1.8},{"id":"H","grp":"NPI3 (705)","v":-2.0},{"id":"H","grp":"NPI3 (705)","v":-2.1},{"id":"H","grp":"NPI3 (705)","v":-3.7},

{"id":"I","grp":"NPI1 (1174)","v":2.6},{"id":"I","grp":"NPI1 (1174)","v":2.85},{"id":"I","grp":"NPI1 (1174)","v":3.25},{"id":"I","grp":"NPI1 (1174)","v":3.3},{"id":"I","grp":"NPI1 (1174)","v":3.5},{"id":"I","grp":"NPI1 (1174)","v":4.55},
{"id":"I","grp":"NPI1 (1174)","v":-2.3},{"id":"I","grp":"NPI1 (1174)","v":-2.6},{"id":"I","grp":"NPI1 (1174)","v":-2.8},{"id":"I","grp":"NPI1 (1174)","v":-2.85},{"id":"I","grp":"NPI1 (1174)","v":-3.4},{"id":"I","grp":"NPI1 (1174)","v":-5.3},
{"id":"I","grp":"NPI2 (2019)","v":2.45},{"id":"I","grp":"NPI2 (2019)","v":2.55},{"id":"I","grp":"NPI2 (2019)","v":2.65},{"id":"I","grp":"NPI2 (2019)","v":2.75},{"id":"I","grp":"NPI2 (2019)","v":2.85},{"id":"I","grp":"NPI2 (2019)","v":2.95},{"id":"I","grp":"NPI2 (2019)","v":3.05},{"id":"I","grp":"NPI2 (2019)","v":3.15},{"id":"I","grp":"NPI2 (2019)","v":3.25},{"id":"I","grp":"NPI2 (2019)","v":3.35},{"id":"I","grp":"NPI2 (2019)","v":3.5},{"id":"I","grp":"NPI2 (2019)","v":3.7},{"id":"I","grp":"NPI2 (2019)","v":4.05},{"id":"I","grp":"NPI2 (2019)","v":4.45},{"id":"I","grp":"NPI2 (2019)","v":4.6},{"id":"I","grp":"NPI2 (2019)","v":5.2},
{"id":"I","grp":"NPI2 (2019)","v":-2.55},{"id":"I","grp":"NPI2 (2019)","v":-2.65},{"id":"I","grp":"NPI2 (2019)","v":-2.75},{"id":"I","grp":"NPI2 (2019)","v":-2.85},{"id":"I","grp":"NPI2 (2019)","v":-2.95},{"id":"I","grp":"NPI2 (2019)","v":-3.1},{"id":"I","grp":"NPI2 (2019)","v":-3.2},{"id":"I","grp":"NPI2 (2019)","v":-3.45},{"id":"I","grp":"NPI2 (2019)","v":-3.8},{"id":"I","grp":"NPI2 (2019)","v":-3.9},{"id":"I","grp":"NPI2 (2019)","v":-4.1},{"id":"I","grp":"NPI2 (2019)","v":-4.85},
{"id":"I","grp":"NPI3 (639)","v":2.35},{"id":"I","grp":"NPI3 (639)","v":2.45},{"id":"I","grp":"NPI3 (639)","v":2.55},{"id":"I","grp":"NPI3 (639)","v":2.65},{"id":"I","grp":"NPI3 (639)","v":2.75},{"id":"I","grp":"NPI3 (639)","v":2.85},{"id":"I","grp":"NPI3 (639)","v":3.0},{"id":"I","grp":"NPI3 (639)","v":3.15},{"id":"I","grp":"NPI3 (639)","v":3.3},{"id":"I","grp":"NPI3 (639)","v":3.45},

{"id":"J","grp":"NPI1","v":2.05},{"id":"J","grp":"NPI1","v":2.3},{"id":"J","grp":"NPI1","v":2.5},{"id":"J","grp":"NPI1","v":2.55},{"id":"J","grp":"NPI1","v":2.7},{"id":"J","grp":"NPI1","v":3.05},{"id":"J","grp":"NPI1","v":3.75},
{"id":"J","grp":"NPI1","v":-1.95},{"id":"J","grp":"NPI1","v":-2.15},{"id":"J","grp":"NPI1","v":-2.25},{"id":"J","grp":"NPI1","v":-2.35},{"id":"J","grp":"NPI1","v":-2.5},{"id":"J","grp":"NPI1","v":-3.13},
{"id":"J","grp":"NPI2","v":2.05},{"id":"J","grp":"NPI2","v":2.2},{"id":"J","grp":"NPI2","v":2.35},{"id":"J","grp":"NPI2","v":2.45},{"id":"J","grp":"NPI2","v":2.5},{"id":"J","grp":"NPI2","v":3.05},{"id":"J","grp":"NPI2","v":3.1},{"id":"J","grp":"NPI2","v":4.37},
{"id":"J","grp":"NPI2","v":-2.2},{"id":"J","grp":"NPI2","v":-2.3},{"id":"J","grp":"NPI2","v":-2.45},{"id":"J","grp":"NPI2","v":-2.55},{"id":"J","grp":"NPI2","v":-3.05},{"id":"J","grp":"NPI2","v":-3.4},{"id":"J","grp":"NPI2","v":-3.55},{"id":"J","grp":"NPI2","v":-4.27},
{"id":"J","grp":"NPI3","v":1.85},{"id":"J","grp":"NPI3","v":2.05},{"id":"J","grp":"NPI3","v":2.65},{"id":"J","grp":"NPI3","v":-2.25},{"id":"J","grp":"NPI3","v":-2.63},

{"id":"K","grp":"NPI1","v":1.95},{"id":"K","grp":"NPI1","v":2.05},{"id":"K","grp":"NPI1","v":2.15},{"id":"K","grp":"NPI1","v":2.4},{"id":"K","grp":"NPI1","v":2.6},{"id":"K","grp":"NPI1","v":2.8},{"id":"K","grp":"NPI1","v":3.05},{"id":"K","grp":"NPI1","v":3.65},{"id":"K","grp":"NPI1","v":5.3},
{"id":"K","grp":"NPI1","v":-2.1},{"id":"K","grp":"NPI1","v":-2.3},{"id":"K","grp":"NPI1","v":-2.35},{"id":"K","grp":"NPI1","v":-2.65},{"id":"K","grp":"NPI1","v":-2.9},
{"id":"K","grp":"NPI2","v":2.4},{"id":"K","grp":"NPI2","v":2.5},{"id":"K","grp":"NPI2","v":2.6},{"id":"K","grp":"NPI2","v":2.7},{"id":"K","grp":"NPI2","v":2.8},{"id":"K","grp":"NPI2","v":2.9},{"id":"K","grp":"NPI2","v":3.0},{"id":"K","grp":"NPI2","v":3.1},{"id":"K","grp":"NPI2","v":3.2},{"id":"K","grp":"NPI2","v":3.3},{"id":"K","grp":"NPI2","v":3.4},{"id":"K","grp":"NPI2","v":3.5},{"id":"K","grp":"NPI2","v":3.7},{"id":"K","grp":"NPI2","v":3.95},{"id":"K","grp":"NPI2","v":4.2},{"id":"K","grp":"NPI2","v":4.4},{"id":"K","grp":"NPI2","v":5.3},
{"id":"K","grp":"NPI2","v":-2.35},{"id":"K","grp":"NPI2","v":-2.7},{"id":"K","grp":"NPI2","v":-3.3},
{"id":"K","grp":"NPI3","v":2.5},{"id":"K","grp":"NPI3","v":2.6},{"id":"K","grp":"NPI3","v":2.75},{"id":"K","grp":"NPI3","v":3.2},{"id":"K","grp":"NPI3","v":3.3},{"id":"K","grp":"NPI3","v":3.4},{"id":"K","grp":"NPI3","v":3.65},{"id":"K","grp":"NPI3","v":3.8},{"id":"K","grp":"NPI3","v":4.15},{"id":"K","grp":"NPI3","v":4.7},{"id":"K","grp":"NPI3","v":4.85},{"id":"K","grp":"NPI3","v":5.45},
{"id":"K","grp":"NPI3","v":-2.4},{"id":"K","grp":"NPI3","v":-2.5},{"id":"K","grp":"NPI3","v":-2.7}
]
},
"columns": 3,
"spacing": {"row": 97, "column": 82},
"bounds": "flush",
"concat": [
{"width": 327, "height": 305, "title": {"text": "Box plot of CLDN1 expression", "subtitle": "according to", "offset": -30},
 "layer": [
  {"data": {"name": "stats"}, "transform": [{"filter": "datum.id == 'A'"}], "mark": {"type": "rule", "color": "#6f8c8c", "strokeWidth": 1.5},
   "encoding": {"x": {"field": "grp", "type": "nominal", "scale": {"type": "band"}, "axis": null}, "y": {"field": "lo", "type": "quantitative", "axis": null}, "y2": {"field": "hi"}}},
  {"data": {"name": "stats"}, "transform": [{"filter": "datum.id == 'A'"}, {"fold": ["lo", "hi"], "as": ["end", "val"]}], "mark": {"type": "rule", "color": "#6f8c8c", "strokeWidth": 1.5},
   "encoding": {"x": {"field": "grp", "type": "nominal", "scale": {"type": "band"}, "bandPosition": 0.26, "axis": null}, "x2": {"field": "grp", "bandPosition": 0.74}, "y": {"field": "val", "type": "quantitative", "axis": null}}},
  {"data": {"name": "stats"}, "transform": [{"filter": "datum.id == 'A'"}], "mark": {"type": "bar", "stroke": "#3e5858", "strokeWidth": 1.2},
   "encoding": {"x": {"field": "grp", "type": "nominal", "scale": {"type": "band"}, "axis": {"orient": "bottom", "labelExpr": "split(datum.label, ' ')", "title": "(No:)", "titleX": -11, "titleY": 36, "titleAlign": "left", "titleBaseline": "alphabetic"}},
    "y": {"field": "q1", "type": "quantitative", "scale": {"domain": [-9.12, 5.52], "nice": false, "zero": false}, "axis": {"orient": "left", "values": [-8, -6, -4, -2, 0, 2, 4], "title": "CLDN1 log2 standardised mRNA level"}}, "y2": {"field": "q3"},
    "color": {"field": "g", "type": "nominal", "scale": {"domain": ["NPI1", "NPI2", "NPI3"], "range": ["#E8600F", "#24B8CC", "#B4C800"]}, "legend": null}}},
  {"data": {"name": "stats"}, "transform": [{"filter": "datum.id == 'A'"}], "mark": {"type": "rule", "color": "white", "strokeWidth": 1.2, "strokeDash": [2, 1.5]},
   "encoding": {"x": {"field": "grp", "type": "nominal", "scale": {"type": "band"}, "bandPosition": 0.03, "axis": null}, "x2": {"field": "grp", "bandPosition": 0.97}, "y": {"field": "med", "type": "quantitative", "axis": null}}},
  {"data": {"name": "out"}, "transform": [{"filter": "datum.id == 'A'"}], "mark": {"type": "point", "shape": "M0,-1L0,1M-0.87,-0.5L0.87,0.5M-0.87,0.5L0.87,-0.5", "size": 16, "filled": false, "stroke": "#506868", "strokeWidth": 0.9, "opacity": 0.85},
   "encoding": {"x": {"field": "grp", "type": "nominal", "scale": {"type": "band"}, "axis": {"orient": "top", "title": "NPI"}},
    "y": {"field": "v", "type": "quantitative", "axis": {"orient": "right", "title": "A", "titleX": -365, "titleY": -30}}}},
  {"data": {"name": "info"}, "transform": [{"filter": "datum.id == 'A'"}], "mark": {"type": "text", "align": "right", "baseline": "alphabetic", "dx": -9, "dy": -5, "fontSize": 11, "fontWeight": "bold", "color": "#000"},
   "encoding": {"x": {"value": "width"}, "y": {"value": "height"}, "text": {"field": "p"}}}
 ]},
{"width": 327, "height": 305, "title": {"text": "Box plot of CLDN3 expression", "subtitle": "according to", "offset": -31},
 "layer": [
  {"data": {"name": "stats"}, "transform": [{"filter": "datum.id == 'B'"}], "mark": {"type": "rule", "color": "#6f8c8c", "strokeWidth": 1.5},
   "encoding": {"x": {"field": "grp", "type": "nominal", "scale": {"type": "band"}, "axis": null}, "y": {"field": "lo", "type": "quantitative", "axis": null}, "y2": {"field": "hi"}}},
  {"data": {"name": "stats"}, "transform": [{"filter": "datum.id == 'B'"}, {"fold": ["lo", "hi"], "as": ["end", "val"]}], "mark": {"type": "rule", "color": "#6f8c8c", "strokeWidth": 1.5},
   "encoding": {"x": {"field": "grp", "type": "nominal", "scale": {"type": "band"}, "bandPosition": 0.26, "axis": null}, "x2": {"field": "grp", "bandPosition": 0.74}, "y": {"field": "val", "type": "quantitative", "axis": null}}},
  {"data": {"name": "stats"}, "transform": [{"filter": "datum.id == 'B'"}], "mark": {"type": "bar", "stroke": "#3e5858", "strokeWidth": 1.2},
   "encoding": {"x": {"field": "grp", "type": "nominal", "scale": {"type": "band"}, "axis": {"orient": "bottom", "labelExpr": "split(datum.label, ' ')", "title": "(No:)", "titleX": -11, "titleY": 36, "titleAlign": "left", "titleBaseline": "alphabetic"}},
    "y": {"field": "q1", "type": "quantitative", "scale": {"domain": [-5.83, 6.81], "nice": false, "zero": false}, "axis": {"orient": "left", "values": [-4, -2, 0, 2, 4, 6], "title": "CLDN3 log2 standardised mRNA level"}}, "y2": {"field": "q3"},
    "color": {"field": "g", "type": "nominal", "scale": {"domain": ["NPI1", "NPI2", "NPI3"], "range": ["#E8600F", "#24B8CC", "#B4C800"]}, "legend": null}}},
  {"data": {"name": "stats"}, "transform": [{"filter": "datum.id == 'B'"}], "mark": {"type": "rule", "color": "white", "strokeWidth": 1.2, "strokeDash": [2, 1.5]},
   "encoding": {"x": {"field": "grp", "type": "nominal", "scale": {"type": "band"}, "bandPosition": 0.03, "axis": null}, "x2": {"field": "grp", "bandPosition": 0.97}, "y": {"field": "med", "type": "quantitative", "axis": null}}},
  {"data": {"name": "out"}, "transform": [{"filter": "datum.id == 'B'"}], "mark": {"type": "point", "shape": "M0,-1L0,1M-0.87,-0.5L0.87,0.5M-0.87,0.5L0.87,-0.5", "size": 16, "filled": false, "stroke": "#506868", "strokeWidth": 0.9, "opacity": 0.85},
   "encoding": {"x": {"field": "grp", "type": "nominal", "scale": {"type": "band"}, "axis": {"orient": "top", "title": "NPI"}},
    "y": {"field": "v", "type": "quantitative", "axis": {"orient": "right", "title": "B", "titleX": -377, "titleY": -31}}}},
  {"data": {"name": "info"}, "transform": [{"filter": "datum.id == 'B'"}], "mark": {"type": "text", "align": "right", "baseline": "alphabetic", "dx": -9, "dy": -5, "fontSize": 11, "fontWeight": "bold", "color": "#000"},
   "encoding": {"x": {"value": "width"}, "y": {"value": "height"}, "text": {"field": "p"}}}
 ]},
{"width": 327, "height": 305, "title": {"text": "Box plot of CLDN4 expression", "subtitle": "according to", "offset": -29},
 "layer": [
  {"data": {"name": "stats"}, "transform": [{"filter": "datum.id == 'C'"}], "mark": {"type": "rule", "color": "#6f8c8c", "strokeWidth": 1.5},
   "encoding": {"x": {"field": "grp", "type": "nominal", "scale": {"type": "band"}, "axis": null}, "y": {"field": "lo", "type": "quantitative", "axis": null}, "y2": {"field": "hi"}}},
  {"data": {"name": "stats"}, "transform": [{"filter": "datum.id == 'C'"}, {"fold": ["lo", "hi"], "as": ["end", "val"]}], "mark": {"type": "rule", "color": "#6f8c8c", "strokeWidth": 1.5},
   "encoding": {"x": {"field": "grp", "type": "nominal", "scale": {"type": "band"}, "bandPosition": 0.26, "axis": null}, "x2": {"field": "grp", "bandPosition": 0.74}, "y": {"field": "val", "type": "quantitative", "axis": null}}},
  {"data": {"name": "stats"}, "transform": [{"filter": "datum.id == 'C'"}], "mark": {"type": "bar", "stroke": "#3e5858", "strokeWidth": 1.2},
   "encoding": {"x": {"field": "grp", "type": "nominal", "scale": {"type": "band"}, "axis": {"orient": "bottom", "labelExpr": "split(datum.label, ' ')", "title": "(No:)", "titleX": -11, "titleY": 36, "titleAlign": "left", "titleBaseline": "alphabetic"}},
    "y": {"field": "q1", "type": "quantitative", "scale": {"domain": [-6.74, 5.55], "nice": false, "zero": false}, "axis": {"orient": "left", "values": [-6, -4, -2, 0, 2, 4], "title": "CLDN4 log2 standardised mRNA level"}}, "y2": {"field": "q3"},
    "color": {"field": "g", "type": "nominal", "scale": {"domain": ["NPI1", "NPI2", "NPI3"], "range": ["#E8600F", "#24B8CC", "#B4C800"]}, "legend": null}}},
  {"data": {"name": "stats"}, "transform": [{"filter": "datum.id == 'C'"}], "mark": {"type": "rule", "color": "white", "strokeWidth": 1.2, "strokeDash": [2, 1.5]},
   "encoding": {"x": {"field": "grp", "type": "nominal", "scale": {"type": "band"}, "bandPosition": 0.03, "axis": null}, "x2": {"field": "grp", "bandPosition": 0.97}, "y": {"field": "med", "type": "quantitative", "axis": null}}},
  {"data": {"name": "out"}, "transform": [{"filter": "datum.id == 'C'"}], "mark": {"type": "point", "shape": "M0,-1L0,1M-0.87,-0.5L0.87,0.5M-0.87,0.5L0.87,-0.5", "size": 16, "filled": false, "stroke": "#506868", "strokeWidth": 0.9, "opacity": 0.85},
   "encoding": {"x": {"field": "grp", "type": "nominal", "scale": {"type": "band"}, "axis": {"orient": "top", "title": "NPI"}},
    "y": {"field": "v", "type": "quantitative", "axis": {"orient": "right", "title": "C", "titleX": -376, "titleY": -29}}}},
  {"data": {"name": "info"}, "transform": [{"filter": "datum.id == 'C'"}], "mark": {"type": "text", "align": "right", "baseline": "alphabetic", "dx": -9, "dy": -5, "fontSize": 11, "fontWeight": "bold", "color": "#000"},
   "encoding": {"x": {"value": "width"}, "y": {"value": "height"}, "text": {"field": "p"}}}
 ]},
{"width": 327, "height": 305, "title": {"text": "Box plot of CLDN5 expression", "subtitle": "according to", "offset": -30},
 "layer": [
  {"data": {"name": "stats"}, "transform": [{"filter": "datum.id == 'D'"}], "mark": {"type": "rule", "color": "#6f8c8c", "strokeWidth": 1.5},
   "encoding": {"x": {"field": "grp", "type": "nominal", "scale": {"type": "band"}, "axis": null}, "y": {"field": "lo", "type": "quantitative", "axis": null}, "y2": {"field": "hi"}}},
  {"data": {"name": "stats"}, "transform": [{"filter": "datum.id == 'D'"}, {"fold": ["lo", "hi"], "as": ["end", "val"]}], "mark": {"type": "rule", "color": "#6f8c8c", "strokeWidth": 1.5},
   "encoding": {"x": {"field": "grp", "type": "nominal", "scale": {"type": "band"}, "bandPosition": 0.26, "axis": null}, "x2": {"field": "grp", "bandPosition": 0.74}, "y": {"field": "val", "type": "quantitative", "axis": null}}},
  {"data": {"name": "stats"}, "transform": [{"filter": "datum.id == 'D'"}], "mark": {"type": "bar", "stroke": "#3e5858", "strokeWidth": 1.2},
   "encoding": {"x": {"field": "grp", "type": "nominal", "scale": {"type": "band"}, "axis": {"orient": "bottom", "labelExpr": "split(datum.label, ' ')", "title": "(No:)", "titleX": -11, "titleY": 36, "titleAlign": "left", "titleBaseline": "alphabetic"}},
    "y": {"field": "q1", "type": "quantitative", "scale": {"domain": [-5.29, 9.5], "nice": false, "zero": false}, "axis": {"orient": "left", "values": [-4, -2, 0, 2, 4, 6, 8], "title": "CLDN5 log2 standardised mRNA level"}}, "y2": {"field": "q3"},
    "color": {"field": "g", "type": "nominal", "scale": {"domain": ["NPI1", "NPI2", "NPI3"], "range": ["#E8600F", "#24B8CC", "#B4C800"]}, "legend": null}}},
  {"data": {"name": "stats"}, "transform": [{"filter": "datum.id == 'D'"}], "mark": {"type": "rule", "color": "white", "strokeWidth": 1.2, "strokeDash": [2, 1.5]},
   "encoding": {"x": {"field": "grp", "type": "nominal", "scale": {"type": "band"}, "bandPosition": 0.03, "axis": null}, "x2": {"field": "grp", "bandPosition": 0.97}, "y": {"field": "med", "type": "quantitative", "axis": null}}},
  {"data": {"name": "out"}, "transform": [{"filter": "datum.id == 'D'"}], "mark": {"type": "point", "shape": "M0,-1L0,1M-0.87,-0.5L0.87,0.5M-0.87,0.5L0.87,-0.5", "size": 16, "filled": false, "stroke": "#506868", "strokeWidth": 0.9, "opacity": 0.85},
   "encoding": {"x": {"field": "grp", "type": "nominal", "scale": {"type": "band"}, "axis": {"orient": "top", "title": "NPI"}},
    "y": {"field": "v", "type": "quantitative", "axis": {"orient": "right", "title": "D", "titleX": -366, "titleY": -30}}}},
  {"data": {"name": "info"}, "transform": [{"filter": "datum.id == 'D'"}], "mark": {"type": "text", "align": "right", "baseline": "alphabetic", "dx": -9, "dy": -5, "fontSize": 11, "fontWeight": "bold", "color": "#000"},
   "encoding": {"x": {"value": "width"}, "y": {"value": "height"}, "text": {"field": "p"}}}
 ]},
{"width": 327, "height": 305, "title": {"text": "Box plot of CLDN6 expression", "subtitle": "according to", "offset": -33},
 "layer": [
  {"data": {"name": "stats"}, "transform": [{"filter": "datum.id == 'E'"}], "mark": {"type": "rule", "color": "#6f8c8c", "strokeWidth": 1.5},
   "encoding": {"x": {"field": "grp", "type": "nominal", "scale": {"type": "band"}, "axis": null}, "y": {"field": "lo", "type": "quantitative", "axis": null}, "y2": {"field": "hi"}}},
  {"data": {"name": "stats"}, "transform": [{"filter": "datum.id == 'E'"}, {"fold": ["lo", "hi"], "as": ["end", "val"]}], "mark": {"type": "rule", "color": "#6f8c8c", "strokeWidth": 1.5},
   "encoding": {"x": {"field": "grp", "type": "nominal", "scale": {"type": "band"}, "bandPosition": 0.26, "axis": null}, "x2": {"field": "grp", "bandPosition": 0.74}, "y": {"field": "val", "type": "quantitative", "axis": null}}},
  {"data": {"name": "stats"}, "transform": [{"filter": "datum.id == 'E'"}], "mark": {"type": "bar", "stroke": "#3e5858", "strokeWidth": 1.2},
   "encoding": {"x": {"field": "grp", "type": "nominal", "scale": {"type": "band"}, "axis": {"orient": "bottom", "labelExpr": "split(datum.label, ' ')", "title": "(No:)", "titleX": -11, "titleY": 36, "titleAlign": "left", "titleBaseline": "alphabetic"}},
    "y": {"field": "q1", "type": "quantitative", "scale": {"domain": [-8.18, 15.1], "nice": false, "zero": false}, "axis": {"orient": "left", "values": [-5, 0, 5, 10, 15], "title": "CLDN6 log2 standardised mRNA level"}}, "y2": {"field": "q3"},
    "color": {"field": "g", "type": "nominal", "scale": {"domain": ["NPI1", "NPI2", "NPI3"], "range": ["#E8600F", "#24B8CC", "#B4C800"]}, "legend": null}}},
  {"data": {"name": "stats"}, "transform": [{"filter": "datum.id == 'E'"}], "mark": {"type": "rule", "color": "white", "strokeWidth": 1.2, "strokeDash": [2, 1.5]},
   "encoding": {"x": {"field": "grp", "type": "nominal", "scale": {"type": "band"}, "bandPosition": 0.03, "axis": null}, "x2": {"field": "grp", "bandPosition": 0.97}, "y": {"field": "med", "type": "quantitative", "axis": null}}},
  {"data": {"name": "out"}, "transform": [{"filter": "datum.id == 'E'"}], "mark": {"type": "point", "shape": "M0,-1L0,1M-0.87,-0.5L0.87,0.5M-0.87,0.5L0.87,-0.5", "size": 16, "filled": false, "stroke": "#506868", "strokeWidth": 0.9, "opacity": 0.85},
   "encoding": {"x": {"field": "grp", "type": "nominal", "scale": {"type": "band"}, "axis": {"orient": "top", "title": "NPI"}},
    "y": {"field": "v", "type": "quantitative", "axis": {"orient": "right", "title": "E", "titleX": -375, "titleY": -33}}}},
  {"data": {"name": "info"}, "transform": [{"filter": "datum.id == 'E'"}], "mark": {"type": "text", "align": "right", "baseline": "alphabetic", "dx": -9, "dy": -5, "fontSize": 11, "fontWeight": "bold", "color": "#000"},
   "encoding": {"x": {"value": "width"}, "y": {"value": "height"}, "text": {"field": "p"}}}
 ]},
{"width": 327, "height": 305, "title": {"text": "Box plot of CLDN7 expression", "subtitle": "according to", "offset": -33},
 "layer": [
  {"data": {"name": "stats"}, "transform": [{"filter": "datum.id == 'F'"}], "mark": {"type": "rule", "color": "#6f8c8c", "strokeWidth": 1.5},
   "encoding": {"x": {"field": "grp", "type": "nominal", "scale": {"type": "band"}, "axis": null}, "y": {"field": "lo", "type": "quantitative", "axis": null}, "y2": {"field": "hi"}}},
  {"data": {"name": "stats"}, "transform": [{"filter": "datum.id == 'F'"}, {"fold": ["lo", "hi"], "as": ["end", "val"]}], "mark": {"type": "rule", "color": "#6f8c8c", "strokeWidth": 1.5},
   "encoding": {"x": {"field": "grp", "type": "nominal", "scale": {"type": "band"}, "bandPosition": 0.26, "axis": null}, "x2": {"field": "grp", "bandPosition": 0.74}, "y": {"field": "val", "type": "quantitative", "axis": null}}},
  {"data": {"name": "stats"}, "transform": [{"filter": "datum.id == 'F'"}], "mark": {"type": "bar", "stroke": "#3e5858", "strokeWidth": 1.2},
   "encoding": {"x": {"field": "grp", "type": "nominal", "scale": {"type": "band"}, "axis": {"orient": "bottom", "labelExpr": "split(datum.label, ' ')", "title": "(No:)", "titleX": -11, "titleY": 36, "titleAlign": "left", "titleBaseline": "alphabetic"}},
    "y": {"field": "q1", "type": "quantitative", "scale": {"domain": [-7.31, 3.67], "nice": false, "zero": false}, "axis": {"orient": "left", "values": [-6, -4, -2, 0, 2], "title": "CLDN7 log2 standardised mRNA level"}}, "y2": {"field": "q3"},
    "color": {"field": "g", "type": "nominal", "scale": {"domain": ["NPI1", "NPI2", "NPI3"], "range": ["#E8600F", "#24B8CC", "#B4C800"]}, "legend": null}}},
  {"data": {"name": "stats"}, "transform": [{"filter": "datum.id == 'F'"}], "mark": {"type": "rule", "color": "white", "strokeWidth": 1.2, "strokeDash": [2, 1.5]},
   "encoding": {"x": {"field": "grp", "type": "nominal", "scale": {"type": "band"}, "bandPosition": 0.03, "axis": null}, "x2": {"field": "grp", "bandPosition": 0.97}, "y": {"field": "med", "type": "quantitative", "axis": null}}},
  {"data": {"name": "out"}, "transform": [{"filter": "datum.id == 'F'"}], "mark": {"type": "point", "shape": "M0,-1L0,1M-0.87,-0.5L0.87,0.5M-0.87,0.5L0.87,-0.5", "size": 16, "filled": false, "stroke": "#506868", "strokeWidth": 0.9, "opacity": 0.85},
   "encoding": {"x": {"field": "grp", "type": "nominal", "scale": {"type": "band"}, "axis": {"orient": "top", "title": "NPI"}},
    "y": {"field": "v", "type": "quantitative", "axis": {"orient": "right", "title": "F", "titleX": -369, "titleY": -33}}}},
  {"data": {"name": "info"}, "transform": [{"filter": "datum.id == 'F'"}], "mark": {"type": "text", "align": "right", "baseline": "alphabetic", "dx": -9, "dy": -5, "fontSize": 11, "fontWeight": "bold", "color": "#000"},
   "encoding": {"x": {"value": "width"}, "y": {"value": "height"}, "text": {"field": "p"}}}
 ]},
{"width": 327, "height": 305, "title": {"text": "Box plot of CLDN9 expression", "subtitle": "according to", "offset": -30},
 "layer": [
  {"data": {"name": "stats"}, "transform": [{"filter": "datum.id == 'G'"}], "mark": {"type": "rule", "color": "#6f8c8c", "strokeWidth": 1.5},
   "encoding": {"x": {"field": "grp", "type": "nominal", "scale": {"type": "band"}, "axis": null}, "y": {"field": "lo", "type": "quantitative", "axis": null}, "y2": {"field": "hi"}}},
  {"data": {"name": "stats"}, "transform": [{"filter": "datum.id == 'G'"}, {"fold": ["lo", "hi"], "as": ["end", "val"]}], "mark": {"type": "rule", "color": "#6f8c8c", "strokeWidth": 1.5},
   "encoding": {"x": {"field": "grp", "type": "nominal", "scale": {"type": "band"}, "bandPosition": 0.26, "axis": null}, "x2": {"field": "grp", "bandPosition": 0.74}, "y": {"field": "val", "type": "quantitative", "axis": null}}},
  {"data": {"name": "stats"}, "transform": [{"filter": "datum.id == 'G'"}], "mark": {"type": "bar", "stroke": "#3e5858", "strokeWidth": 1.2},
   "encoding": {"x": {"field": "grp", "type": "nominal", "scale": {"type": "band"}, "axis": {"orient": "bottom", "labelExpr": "split(datum.label, ' ')", "title": "(No:)", "titleX": -11, "titleY": 36, "titleAlign": "left", "titleBaseline": "alphabetic"}},
    "y": {"field": "q1", "type": "quantitative", "scale": {"domain": [-7.83, 9.3], "nice": false, "zero": false}, "axis": {"orient": "left", "values": [-5, 0, 5], "title": "CLDN9 log2 standardised mRNA level"}}, "y2": {"field": "q3"},
    "color": {"field": "g", "type": "nominal", "scale": {"domain": ["NPI1", "NPI2", "NPI3"], "range": ["#E8600F", "#24B8CC", "#B4C800"]}, "legend": null}}},
  {"data": {"name": "stats"}, "transform": [{"filter": "datum.id == 'G'"}], "mark": {"type": "rule", "color": "white", "strokeWidth": 1.2, "strokeDash": [2, 1.5]},
   "encoding": {"x": {"field": "grp", "type": "nominal", "scale": {"type": "band"}, "bandPosition": 0.03, "axis": null}, "x2": {"field": "grp", "bandPosition": 0.97}, "y": {"field": "med", "type": "quantitative", "axis": null}}},
  {"data": {"name": "out"}, "transform": [{"filter": "datum.id == 'G'"}], "mark": {"type": "point", "shape": "M0,-1L0,1M-0.87,-0.5L0.87,0.5M-0.87,0.5L0.87,-0.5", "size": 16, "filled": false, "stroke": "#506868", "strokeWidth": 0.9, "opacity": 0.85},
   "encoding": {"x": {"field": "grp", "type": "nominal", "scale": {"type": "band"}, "axis": {"orient": "top", "title": "NPI"}},
    "y": {"field": "v", "type": "quantitative", "axis": {"orient": "right", "title": "G", "titleX": -366, "titleY": -30}}}},
  {"data": {"name": "info"}, "transform": [{"filter": "datum.id == 'G'"}], "mark": {"type": "text", "align": "right", "baseline": "alphabetic", "dx": -9, "dy": -5, "fontSize": 11, "fontWeight": "bold", "color": "#000"},
   "encoding": {"x": {"value": "width"}, "y": {"value": "height"}, "text": {"field": "p"}}}
 ]},
{"width": 327, "height": 305, "title": {"text": "Box plot of CLDN10 expression", "subtitle": "according to", "offset": -27},
 "layer": [
  {"data": {"name": "stats"}, "transform": [{"filter": "datum.id == 'H'"}], "mark": {"type": "rule", "color": "#6f8c8c", "strokeWidth": 1.5},
   "encoding": {"x": {"field": "grp", "type": "nominal", "scale": {"type": "band"}, "axis": null}, "y": {"field": "lo", "type": "quantitative", "axis": null}, "y2": {"field": "hi"}}},
  {"data": {"name": "stats"}, "transform": [{"filter": "datum.id == 'H'"}, {"fold": ["lo", "hi"], "as": ["end", "val"]}], "mark": {"type": "rule", "color": "#6f8c8c", "strokeWidth": 1.5},
   "encoding": {"x": {"field": "grp", "type": "nominal", "scale": {"type": "band"}, "bandPosition": 0.26, "axis": null}, "x2": {"field": "grp", "bandPosition": 0.74}, "y": {"field": "val", "type": "quantitative", "axis": null}}},
  {"data": {"name": "stats"}, "transform": [{"filter": "datum.id == 'H'"}], "mark": {"type": "bar", "stroke": "#3e5858", "strokeWidth": 1.2},
   "encoding": {"x": {"field": "grp", "type": "nominal", "scale": {"type": "band"}, "axis": {"orient": "bottom", "labelExpr": "split(datum.label, ' ')", "title": "(No:)", "titleX": -11, "titleY": 36, "titleAlign": "left", "titleBaseline": "alphabetic"}},
    "y": {"field": "q1", "type": "quantitative", "scale": {"domain": [-6.23, 10.76], "nice": false, "zero": false}, "axis": {"orient": "left", "values": [-5, 0, 5, 10], "title": "CLDN10 log2 standardised mRNA level"}}, "y2": {"field": "q3"},
    "color": {"field": "g", "type": "nominal", "scale": {"domain": ["NPI1", "NPI2", "NPI3"], "range": ["#E8600F", "#24B8CC", "#B4C800"]}, "legend": null}}},
  {"data": {"name": "stats"}, "transform": [{"filter": "datum.id == 'H'"}], "mark": {"type": "rule", "color": "white", "strokeWidth": 1.2, "strokeDash": [2, 1.5]},
   "encoding": {"x": {"field": "grp", "type": "nominal", "scale": {"type": "band"}, "bandPosition": 0.03, "axis": null}, "x2": {"field": "grp", "bandPosition": 0.97}, "y": {"field": "med", "type": "quantitative", "axis": null}}},
  {"data": {"name": "out"}, "transform": [{"filter": "datum.id == 'H'"}], "mark": {"type": "point", "shape": "M0,-1L0,1M-0.87,-0.5L0.87,0.5M-0.87,0.5L0.87,-0.5", "size": 16, "filled": false, "stroke": "#506868", "strokeWidth": 0.9, "opacity": 0.85},
   "encoding": {"x": {"field": "grp", "type": "nominal", "scale": {"type": "band"}, "axis": {"orient": "top", "title": "NPI"}},
    "y": {"field": "v", "type": "quantitative", "axis": {"orient": "right", "title": "H", "titleX": -375, "titleY": -27}}}},
  {"data": {"name": "info"}, "transform": [{"filter": "datum.id == 'H'"}], "mark": {"type": "text", "align": "right", "baseline": "alphabetic", "dx": -9, "dy": -5, "fontSize": 11, "fontWeight": "bold", "color": "#000"},
   "encoding": {"x": {"value": "width"}, "y": {"value": "height"}, "text": {"field": "p"}}}
 ]},
{"width": 327, "height": 305, "title": {"text": "Box plot of CLDN11 expression", "subtitle": "according to", "offset": -24},
 "layer": [
  {"data": {"name": "stats"}, "transform": [{"filter": "datum.id == 'I'"}], "mark": {"type": "rule", "color": "#6f8c8c", "strokeWidth": 1.5},
   "encoding": {"x": {"field": "grp", "type": "nominal", "scale": {"type": "band"}, "axis": null}, "y": {"field": "lo", "type": "quantitative", "axis": null}, "y2": {"field": "hi"}}},
  {"data": {"name": "stats"}, "transform": [{"filter": "datum.id == 'I'"}, {"fold": ["lo", "hi"], "as": ["end", "val"]}], "mark": {"type": "rule", "color": "#6f8c8c", "strokeWidth": 1.5},
   "encoding": {"x": {"field": "grp", "type": "nominal", "scale": {"type": "band"}, "bandPosition": 0.26, "axis": null}, "x2": {"field": "grp", "bandPosition": 0.74}, "y": {"field": "val", "type": "quantitative", "axis": null}}},
  {"data": {"name": "stats"}, "transform": [{"filter": "datum.id == 'I'"}], "mark": {"type": "bar", "stroke": "#3e5858", "strokeWidth": 1.2},
   "encoding": {"x": {"field": "grp", "type": "nominal", "scale": {"type": "band"}, "axis": {"orient": "bottom", "labelExpr": "split(datum.label, ' ')", "title": "(No:)", "titleX": -11, "titleY": 36, "titleAlign": "left", "titleBaseline": "alphabetic"}},
    "y": {"field": "q1", "type": "quantitative", "scale": {"domain": [-6.22, 5.71], "nice": false, "zero": false}, "axis": {"orient": "left", "values": [-6, -4, -2, 0, 2, 4], "title": "CLDN11 log2 standardised mRNA level"}}, "y2": {"field": "q3"},
    "color": {"field": "g", "type": "nominal", "scale": {"domain": ["NPI1", "NPI2", "NPI3"], "range": ["#E8600F", "#24B8CC", "#B4C800"]}, "legend": null}}},
  {"data": {"name": "stats"}, "transform": [{"filter": "datum.id == 'I'"}], "mark": {"type": "rule", "color": "white", "strokeWidth": 1.2, "strokeDash": [2, 1.5]},
   "encoding": {"x": {"field": "grp", "type": "nominal", "scale": {"type": "band"}, "bandPosition": 0.03, "axis": null}, "x2": {"field": "grp", "bandPosition": 0.97}, "y": {"field": "med", "type": "quantitative", "axis": null}}},
  {"data": {"name": "out"}, "transform": [{"filter": "datum.id == 'I'"}], "mark": {"type": "point", "shape": "M0,-1L0,1M-0.87,-0.5L0.87,0.5M-0.87,0.5L0.87,-0.5", "size": 16, "filled": false, "stroke": "#506868", "strokeWidth": 0.9, "opacity": 0.85},
   "encoding": {"x": {"field": "grp", "type": "nominal", "scale": {"type": "band"}, "axis": {"orient": "top", "title": "NPI"}},
    "y": {"field": "v", "type": "quantitative", "axis": {"orient": "right", "title": "I", "titleX": -369, "titleY": -24}}}},
  {"data": {"name": "info"}, "transform": [{"filter": "datum.id == 'I'"}], "mark": {"type": "text", "align": "right", "baseline": "alphabetic", "dx": -9, "dy": -5, "fontSize": 11, "fontWeight": "bold", "color": "#000"},
   "encoding": {"x": {"value": "width"}, "y": {"value": "height"}, "text": {"field": "p"}}}
 ]},
{"width": 327, "height": 305, "title": {"text": "Box plot of CLDN12 expression", "subtitle": "according to", "offset": -28},
 "layer": [
  {"data": {"name": "stats"}, "transform": [{"filter": "datum.id == 'J'"}], "mark": {"type": "rule", "color": "#6f8c8c", "strokeWidth": 1.5},
   "encoding": {"x": {"field": "grp", "type": "nominal", "scale": {"type": "band"}, "axis": null}, "y": {"field": "lo", "type": "quantitative", "axis": null}, "y2": {"field": "hi"}}},
  {"data": {"name": "stats"}, "transform": [{"filter": "datum.id == 'J'"}, {"fold": ["lo", "hi"], "as": ["end", "val"]}], "mark": {"type": "rule", "color": "#6f8c8c", "strokeWidth": 1.5},
   "encoding": {"x": {"field": "grp", "type": "nominal", "scale": {"type": "band"}, "bandPosition": 0.26, "axis": null}, "x2": {"field": "grp", "bandPosition": 0.74}, "y": {"field": "val", "type": "quantitative", "axis": null}}},
  {"data": {"name": "stats"}, "transform": [{"filter": "datum.id == 'J'"}], "mark": {"type": "bar", "stroke": "#3e5858", "strokeWidth": 1.2},
   "encoding": {"x": {"field": "grp", "type": "nominal", "scale": {"type": "band"}, "axis": {"orient": "bottom", "title": null}},
    "y": {"field": "q1", "type": "quantitative", "scale": {"domain": [-5.03, 4.78], "nice": false, "zero": false}, "axis": {"orient": "left", "values": [-4, -2, 0, 2, 4], "title": "CLDN12 log2 standardised mRNA level"}}, "y2": {"field": "q3"},
    "color": {"field": "g", "type": "nominal", "scale": {"domain": ["NPI1", "NPI2", "NPI3"], "range": ["#E8600F", "#24B8CC", "#B4C800"]}, "legend": null}}},
  {"data": {"name": "stats"}, "transform": [{"filter": "datum.id == 'J'"}], "mark": {"type": "rule", "color": "white", "strokeWidth": 1.2, "strokeDash": [2, 1.5]},
   "encoding": {"x": {"field": "grp", "type": "nominal", "scale": {"type": "band"}, "bandPosition": 0.03, "axis": null}, "x2": {"field": "grp", "bandPosition": 0.97}, "y": {"field": "med", "type": "quantitative", "axis": null}}},
  {"data": {"name": "out"}, "transform": [{"filter": "datum.id == 'J'"}], "mark": {"type": "point", "shape": "M0,-1L0,1M-0.87,-0.5L0.87,0.5M-0.87,0.5L0.87,-0.5", "size": 16, "filled": false, "stroke": "#506868", "strokeWidth": 0.9, "opacity": 0.85},
   "encoding": {"x": {"field": "grp", "type": "nominal", "scale": {"type": "band"}, "axis": {"orient": "top", "title": "NPI"}},
    "y": {"field": "v", "type": "quantitative", "axis": {"orient": "right", "title": "J", "titleX": -366, "titleY": -28}}}},
  {"data": {"name": "info"}, "transform": [{"filter": "datum.id == 'J'"}], "mark": {"type": "text", "align": "right", "baseline": "alphabetic", "dx": -9, "dy": -5, "fontSize": 11, "fontWeight": "bold", "color": "#000"},
   "encoding": {"x": {"value": "width"}, "y": {"value": "height"}, "text": {"field": "p"}}}
 ]},
{"width": 327, "height": 305, "title": {"text": "Box plot of CLDN23 expression", "subtitle": "according to", "offset": -29},
 "layer": [
  {"data": {"name": "stats"}, "transform": [{"filter": "datum.id == 'K'"}], "mark": {"type": "rule", "color": "#6f8c8c", "strokeWidth": 1.5},
   "encoding": {"x": {"field": "grp", "type": "nominal", "scale": {"type": "band"}, "axis": null}, "y": {"field": "lo", "type": "quantitative", "axis": null}, "y2": {"field": "hi"}}},
  {"data": {"name": "stats"}, "transform": [{"filter": "datum.id == 'K'"}, {"fold": ["lo", "hi"], "as": ["end", "val"]}], "mark": {"type": "rule", "color": "#6f8c8c", "strokeWidth": 1.5},
   "encoding": {"x": {"field": "grp", "type": "nominal", "scale": {"type": "band"}, "bandPosition": 0.26, "axis": null}, "x2": {"field": "grp", "bandPosition": 0.74}, "y": {"field": "val", "type": "quantitative", "axis": null}}},
  {"data": {"name": "stats"}, "transform": [{"filter": "datum.id == 'K'"}], "mark": {"type": "bar", "stroke": "#3e5858", "strokeWidth": 1.2},
   "encoding": {"x": {"field": "grp", "type": "nominal", "scale": {"type": "band"}, "axis": {"orient": "bottom", "title": null}},
    "y": {"field": "q1", "type": "quantitative", "scale": {"domain": [-4.07, 5.85], "nice": false, "zero": false}, "axis": {"orient": "left", "values": [-4, -2, 0, 2, 4], "title": "CLDN23 log2 standardised mRNA level"}}, "y2": {"field": "q3"},
    "color": {"field": "g", "type": "nominal", "scale": {"domain": ["NPI1", "NPI2", "NPI3"], "range": ["#E8600F", "#24B8CC", "#B4C800"]}, "legend": null}}},
  {"data": {"name": "stats"}, "transform": [{"filter": "datum.id == 'K'"}], "mark": {"type": "rule", "color": "white", "strokeWidth": 1.2, "strokeDash": [2, 1.5]},
   "encoding": {"x": {"field": "grp", "type": "nominal", "scale": {"type": "band"}, "bandPosition": 0.03, "axis": null}, "x2": {"field": "grp", "bandPosition": 0.97}, "y": {"field": "med", "type": "quantitative", "axis": null}}},
  {"data": {"name": "out"}, "transform": [{"filter": "datum.id == 'K'"}], "mark": {"type": "point", "shape": "M0,-1L0,1M-0.87,-0.5L0.87,0.5M-0.87,0.5L0.87,-0.5", "size": 16, "filled": false, "stroke": "#506868", "strokeWidth": 0.9, "opacity": 0.85},
   "encoding": {"x": {"field": "grp", "type": "nominal", "scale": {"type": "band"}, "axis": {"orient": "top", "title": "NPI"}},
    "y": {"field": "v", "type": "quantitative", "axis": {"orient": "right", "title": "K", "titleX": -373, "titleY": -29}}}},
  {"data": {"name": "info"}, "transform": [{"filter": "datum.id == 'K'"}], "mark": {"type": "text", "align": "right", "baseline": "alphabetic", "dx": -9, "dy": -5, "fontSize": 11, "fontWeight": "bold", "color": "#000"},
   "encoding": {"x": {"value": "width"}, "y": {"value": "height"}, "text": {"field": "p"}}}
 ]}
]
}
